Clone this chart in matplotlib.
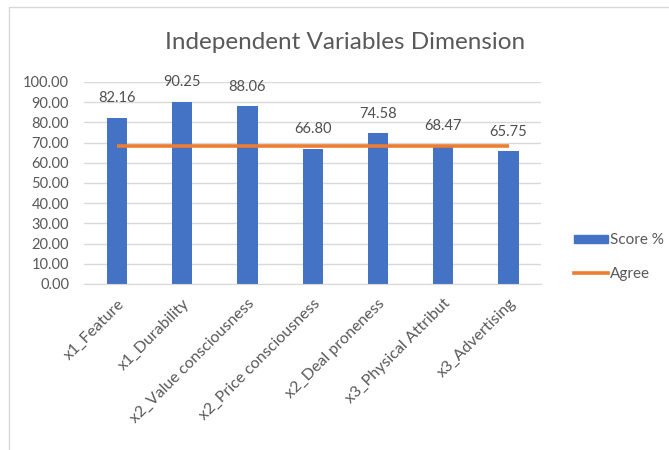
import matplotlib.pyplot as plt
from matplotlib.lines import Line2D
from matplotlib.patches import Patch
import numpy as np

plt.rcParams['font.family'] = ['Lato', 'DejaVu Sans']

# data
categories = ['x1_Feature', 'x1_Durability', 'x2_Value consciousness',
              'x2_Price consciousness', 'x2_Deal proneness',
              'x3_Physical Attribut', 'x3_Advertising']
score = [82.16, 90.25, 88.06, 66.80, 74.58, 68.47, 65.75]
agree = [68.3] * len(categories)

blue = '#4472C4'
orange = '#ED7D31'
grey_txt = '#595959'
grid_c = '#D9D9D9'

fig = plt.figure(figsize=(6.69, 4.5), dpi=100)
ax = fig.add_axes([0.126, 0.369, 0.683, 0.449])

x = np.arange(len(categories))
ax.bar(x, score, width=0.31, color=blue, zorder=2)
ax.plot(x, agree, color=orange, lw=2.6, zorder=3, solid_capstyle='butt')

# value labels
for xi, v in zip(x, score):
    ax.annotate(f'{v:.2f}', (xi, v), xytext=(0, 9), textcoords='offset points',
                ha='center', va='bottom', fontsize=10.5, color='#505050')

ax.set_xlim(-0.5, len(categories) - 0.5)
ax.set_ylim(0, 100)
ax.set_yticks(np.arange(0, 101, 10))
ax.set_yticklabels([f'{t:.2f}' for t in np.arange(0, 101, 10)], fontsize=10.5, color=grey_txt)
ax.set_xticks(x)
ax.set_xticklabels(categories, rotation=45, ha='right', rotation_mode='anchor',
                   fontsize=11.5, color=grey_txt)
ax.tick_params(length=0)
ax.tick_params(axis='y', pad=11)
ax.tick_params(axis='x', pad=9)
ax.yaxis.grid(True, color=grid_c, lw=1, zorder=0)
ax.set_axisbelow(True)
for s in ['top', 'right', 'left']:
    ax.spines[s].set_visible(False)
ax.spines['bottom'].set_color(grid_c)

fig.text(0.516, 0.905, 'Independent Variables Dimension', ha='center', va='center',
         fontsize=17.5, color=grey_txt)

handles = [Patch(facecolor=blue, edgecolor=blue),
           Line2D([0], [0], color=orange, lw=2.6)]
fig.legend(handles, ['Score %', 'Agree'], loc='center left',
           bbox_to_anchor=(0.838, 0.428), frameon=False, fontsize=11,
           labelcolor=grey_txt, handlelength=2.2, handleheight=0.5,
           handletextpad=0.15, labelspacing=1.3)

# chart area border
fig.add_artist(Line2D([9 / 669, 9 / 669, 1], [0, 1 - 7 / 450, 1 - 7 / 450],
                      transform=fig.transFigure, color='#D9D9D9', lw=1))

fig.savefig('out.png', dpi=100)
